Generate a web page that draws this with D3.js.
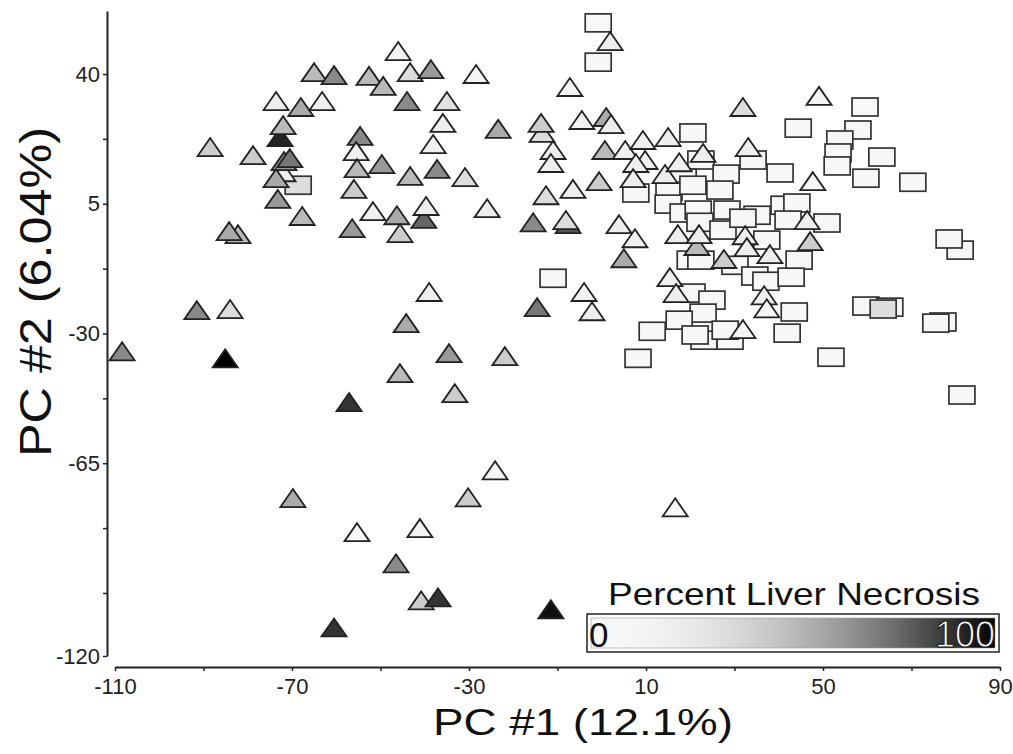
<!DOCTYPE html>
<html>
<head>
<meta charset="utf-8">
<script src="https://cdn.jsdelivr.net/npm/d3@7"></script>
<style>
  html, body { margin: 0; padding: 0; background: #fff; }
  svg { display: block; font-family: "Liberation Sans", Arial, sans-serif; }
</style>
</head>
<body>
<svg id="chart" width="1013" height="754"></svg>
<script>
/* ─────────────────────────────────────────────────────────────────
   PCA score plot — PC #1 vs PC #2, shaded by percent liver necrosis
   ───────────────────────────────────────────────────────────────── */

// [PC1, PC2, percent necrosis]
const squareSamples = [
  [-0.8, 53.8, 3], [-0.8, 43.2, 5], [-68.6, 10.0, 33],
  [20.6, 24.1, 5], [22.4, 16.8, 5], [28.1, 13.0, 5], [7.7, 7.9, 5],
  [18.4, 11.9, 5], [15.2, 8.4, 5], [20.6, 10.0, 5], [26.7, 8.7, 5],
  [15.0, 4.9, 5], [18.4, 2.5, 5], [21.8, 3.3, 5], [28.3, 3.3, 5],
  [22.2, 0.0, 5], [27.4, -2.1, 5], [20.0, -10.2, 5], [22.4, -10.2, 5],
  [30.1, -11.6, 5], [20.4, -19.1, 5], [24.9, -21.0, 5], [22.9, -24.5, 5],
  [17.5, -26.4, 5], [11.4, -29.4, 5], [23.1, -31.8, 5], [21.1, -30.4, 5],
  [29.0, -31.8, 5], [27.9, -29.1, 5], [8.2, -36.7, 5],
  [44.4, 25.4, 5], [59.5, 31.1, 3], [57.9, 24.9, 5], [53.8, 22.2, 5],
  [53.4, 18.7, 5], [53.2, 15.2, 5], [63.3, 17.6, 5], [59.7, 11.9, 5],
  [70.3, 10.8, 5], [34.2, 16.8, 5], [40.3, 13.3, 5], [41.2, 4.6, 5],
  [44.1, 5.2, 5], [35.1, 1.9, 5], [31.9, 1.1, 5], [42.1, 0.6, 5],
  [50.9, -0.2, 5], [37.3, -4.8, 5], [81.0, -7.5, 5], [78.5, -4.5, 5],
  [44.6, -10.2, 5], [34.6, -14.5, 5], [37.1, -15.9, 5], [42.8, -14.8, 5],
  [43.5, -24.2, 5], [41.9, -29.9, 5], [59.7, -22.6, 5], [65.1, -22.9, 5],
  [63.6, -23.4, 33], [77.1, -26.9, 5], [75.5, -27.2, 5], [51.8, -36.4, 5],
  [81.4, -46.6, 5], [-11.0, -15.1, 5]
];

const triangleSamples = [
  // upper left group
  [-65.0, 40.5, 50], [-60.5, 39.7, 67], [-73.6, 32.7, 20], [-68.0, 31.1, 56],
  [-63.2, 32.7, 18], [-72.7, 23.0, 93], [-72.0, 26.2, 50], [-88.5, 20.3, 42],
  [-78.8, 18.1, 42], [-72.0, 13.5, 20], [-71.8, 16.5, 62], [-70.5, 17.3, 72],
  [-73.6, 11.9, 56], [-73.2, 6.3, 62], [-67.7, 1.7, 50], [-82.2, -3.2, 50],
  [-84.2, -2.4, 56],
  // upper middle group
  [-46.0, 46.2, 15], [-52.6, 39.5, 50], [-43.3, 40.5, 33], [-38.6, 41.3, 62],
  [-49.4, 36.8, 50], [-28.4, 40.0, 11], [-44.0, 32.7, 67], [-35.0, 32.7, 31],
  [-35.9, 26.8, 20], [-23.4, 25.2, 56], [-54.6, 23.3, 67], [-55.5, 19.2, 18],
  [-55.3, 14.6, 50], [-49.7, 15.7, 62], [-38.1, 21.1, 18], [-43.3, 12.5, 50],
  [-37.2, 14.4, 67], [-30.9, 12.2, 33], [-56.0, 9.0, 42], [-51.7, 3.0, 18],
  [-46.3, 1.9, 56], [-40.2, 0.9, 77], [-39.7, 4.4, 20], [-45.6, -2.9, 42],
  [-56.4, -1.6, 62], [-25.9, 3.8, 20],
  // centre group
  [1.9, 48.9, 20], [-7.2, 36.5, 11], [-13.5, 24.1, 33], [-13.7, 26.8, 42],
  [-11.0, 19.5, 20], [-4.5, 27.6, 15], [1.0, 28.4, 56], [2.1, 26.5, 20],
  [-11.5, 16.0, 20], [-12.6, 7.3, 33], [-6.5, 9.0, 20], [-0.6, 11.1, 42],
  [-15.5, 0.0, 67], [-7.6, -0.5, 81], [-8.1, 0.6, 33], [0.7, 19.5, 50],
  [5.3, 19.5, 18], [9.3, 22.2, 18], [15.0, 23.0, 20], [9.8, 16.8, 18],
  [7.7, 16.0, 18], [7.1, 11.9, 20], [14.3, 13.0, 20], [17.5, 16.2, 20],
  [22.9, 18.7, 20], [3.9, -0.5, 20], [7.5, -4.3, 18], [5.0, -9.7, 56],
  [17.2, -3.2, 20], [21.5, -6.4, 50], [22.0, -3.2, 20], [27.6, -9.9, 42],
  [15.4, -14.8, 18], [16.8, -19.1, 20], [31.9, 31.1, 33], [49.1, 34.1, 11],
  [33.1, 20.3, 20], [47.7, 11.1, 5], [46.4, 0.6, 20], [47.1, -5.1, 42],
  [32.4, -3.5, 20], [32.8, -6.7, 20], [38.0, -8.6, 20], [36.7, -19.7, 20],
  [37.3, -23.2, 11], [31.9, -28.8, 11], [-4.0, -18.8, 15], [-2.2, -24.0, 20],
  [-14.6, -22.9, 72],
  // lower spread
  [-39.0, -18.8, 20], [-44.2, -27.2, 56], [-34.5, -35.3, 62], [-21.9, -36.1, 42],
  [-45.6, -40.7, 50], [-33.2, -46.1, 42], [-57.1, -48.5, 89], [-24.1, -66.9, 11],
  [-30.2, -74.2, 42], [-91.5, -23.7, 67], [-84.0, -23.4, 33], [-108.4, -34.8, 67],
  [-85.1, -36.7, 100], [-69.8, -74.4, 56], [-60.5, -109.3, 89], [-55.3, -83.6, 3],
  [-41.1, -82.5, 11], [-46.5, -92.0, 67], [-40.8, -102.0, 42], [-37.0, -101.2, 89],
  [-11.5, -104.4, 97], [16.6, -76.9, 3]
];

const xTicks       = [-110, -70, -30, 10, 50, 90];
const xMinorTicks  = [-90, -50, -10, 30, 70];
const yTicks       = [40, 5, -30, -65, -117];
const yTickLabels  = ['40', '5', '-30', '-65', '-120'];
const yMinorTicks  = [22.5, -12.5, -47.5, -82.5, -100];
const xTitle       = 'PC #1 (12.1%)';
const yTitle       = 'PC #2 (6.04%)';
const legendTitle  = 'Percent Liver Necrosis';
const necrosisEnds = [0, 100];

/* ── Scales ──────────────────────────────────────────────────────── */
const svg = d3.select('#chart');

const x = d3.scaleLinear().domain([-110, 90]).range([115, 1000]);
const y = d3.scaleLinear().domain([-117, 57]).range([656, 11]);
const shade = d3.scalePow().exponent(2).domain(necrosisEnds).range(['#f8f8f8', '#000000']);

const INK = '#222';

/* ── Axes ────────────────────────────────────────────────────────── */
function styleAxis(g) {
  g.select('.domain').attr('stroke', INK).attr('stroke-width', 2);
  g.selectAll('.tick line').attr('stroke', INK).attr('stroke-width', 1.5);
  g.selectAll('.tick text').attr('fill', INK).attr('font-size', '22px')
    .attr('font-family', '"Liberation Sans", Arial, sans-serif');
}

// plain hyphen for negatives, as in the original figure
svg.append('g').attr('transform', 'translate(0,667)')
  .call(d3.axisBottom(x).tickValues(xTicks).tickSize(4).tickSizeOuter(0).tickPadding(7)
    .tickFormat(d => String(d)))
  .call(styleAxis);

svg.append('g').attr('transform', 'translate(0,667)')
  .call(d3.axisBottom(x).tickValues(xMinorTicks).tickSize(4).tickFormat(''))
  .call(g => g.select('.domain').remove())
  .call(styleAxis);

svg.append('g').attr('transform', 'translate(107,0)')
  .call(d3.axisLeft(y).tickValues(yTicks).tickSize(4).tickSizeOuter(0).tickPadding(3)
    .tickFormat((d, i) => yTickLabels[i]))
  .call(styleAxis);

svg.append('g').attr('transform', 'translate(107,0)')
  .call(d3.axisLeft(y).tickValues(yMinorTicks).tickSize(4).tickFormat(''))
  .call(g => g.select('.domain').remove())
  .call(styleAxis);

/* ── Marks ───────────────────────────────────────────────────────── */
const TW = 25, TH = 18;   // triangle box
const SW = 26, SH = 18;   // square box

svg.append('g').selectAll('rect').data(squareSamples).join('rect')
  .attr('x', d => x(d[0]) - SW / 2)
  .attr('y', d => y(d[1]) - SH / 2)
  .attr('width', SW)
  .attr('height', SH)
  .attr('fill', d => shade(d[2]))
  .attr('stroke', '#333')
  .attr('stroke-width', 1.7);

svg.append('g').selectAll('path').data(triangleSamples).join('path')
  .attr('d', `M0,${-TH / 2}L${TW / 2},${TH / 2}L${-TW / 2},${TH / 2}Z`)
  .attr('transform', d => `translate(${x(d[0])},${y(d[1])})`)
  .attr('fill', d => shade(d[2]))
  .attr('stroke', '#222')
  .attr('stroke-width', 1.8)
  .attr('stroke-linejoin', 'miter');

/* ── Axis titles ─────────────────────────────────────────────────── */
svg.append('text')
  .attr('x', 433).attr('y', 735)
  .attr('font-size', '37px').attr('fill', '#111')
  .attr('textLength', 300).attr('lengthAdjust', 'spacingAndGlyphs')
  .text(xTitle);

svg.append('text')
  .attr('transform', 'translate(51,292) rotate(-90)')
  .attr('text-anchor', 'middle')
  .attr('font-size', '44px').attr('fill', '#111')
  .attr('textLength', 330).attr('lengthAdjust', 'spacingAndGlyphs')
  .text(yTitle);

/* ── Necrosis colour bar ─────────────────────────────────────────── */
const grad = svg.append('defs').append('linearGradient').attr('id', 'necrosis-grad');
grad.selectAll('stop').data(d3.range(0, 101, 5)).join('stop')
  .attr('offset', d => `${d}%`)
  .attr('stop-color', d => shade(d));

const legX = 587, legY = 614, legW = 412, legH = 38;

svg.append('text')
  .attr('x', 608).attr('y', 605)
  .attr('font-size', '32px').attr('fill', '#111')
  .attr('textLength', 372).attr('lengthAdjust', 'spacingAndGlyphs')
  .text(legendTitle);

svg.append('rect')
  .attr('x', legX).attr('y', legY).attr('width', legW).attr('height', legH)
  .attr('fill', '#fff').attr('stroke', INK).attr('stroke-width', 1.5);

svg.append('rect')
  .attr('x', legX + 4).attr('y', legY + 4).attr('width', legW - 8).attr('height', legH - 8)
  .attr('fill', 'url(#necrosis-grad)').attr('stroke', '#999').attr('stroke-width', 0.6);

svg.append('text')
  .attr('x', legX + 2).attr('y', legY + 33)
  .attr('font-size', '35px').attr('fill', '#111')
  .text(necrosisEnds[0]);

svg.append('text')
  .attr('x', legX + legW - 4).attr('y', legY + 33)
  .attr('text-anchor', 'end')
  .attr('font-size', '36px').attr('fill', '#fff')
  .attr('stroke', '#111').attr('stroke-width', 1)
  .text(necrosisEnds[1]);
</script>
</body>
</html>
